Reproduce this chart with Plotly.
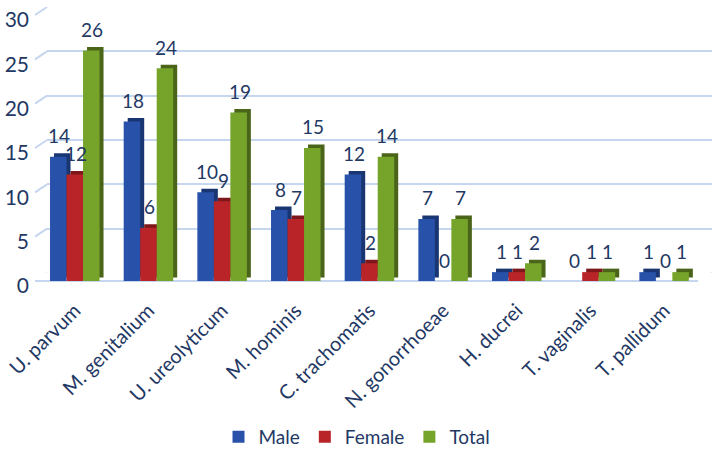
import plotly.graph_objects as go
import numpy as np

categories = ["U. parvum", "M. genitalium", "U. ureolyticum", "M. hominis",
              "C. trachomatis", "N. gonorrhoeae", "H. ducrei", "T. vaginalis", "T. pallidum"]
male = [14, 18, 10, 8, 12, 7, 1, 0, 1]
female = [12, 6, 9, 7, 2, 0, 1, 1, 0]
total = [26, 24, 19, 15, 14, 7, 2, 1, 1]
y_ticks = [0, 5, 10, 15, 20, 25, 30]

# ---- geometry / style ----
W, H = 714, 457
FRONT_L, FRONT_R = 35, 698
BACK_L, BACK_R = 47, 712
Y0_PX, YTOP_PX = 281, 15
LABEL_AXIS_PX = 294
YMAX = 30
DEPTH_UP = 8
PX_PER_UNIT = (Y0_PX - YTOP_PX) / YMAX
TXT = "#1F3864"
GRID = "#C6D6EF"
FONT = "Lato"

series = [
    ("Male", male, "#2852AA", "#1A3672", -0.296),
    ("Female", female, "#B82427", "#7E1719", -0.072),
    ("Total", total, "#76A42B", "#4A651A", 0.152),
]
BAR_W = 0.224
DX = 4 / ((FRONT_R - FRONT_L) / 9)
DY = 3.5 / PX_PER_UNIT

xs = np.arange(len(categories))

fig = go.Figure()
# invisible trace to create the back-wall grid subplot
fig.add_trace(go.Scatter(x=[0], y=[0], xaxis="x", yaxis="y", mode="markers",
                         marker=dict(opacity=0), showlegend=False, hoverinfo="skip"))

# side/top faces (3D depth)
for name, vals, c, cs, off in series:
    fig.add_trace(go.Bar(x=xs, y=vals, base=DY, offset=off + DX, width=BAR_W,
                         marker=dict(color=cs, line=dict(width=0)),
                         xaxis="x2", yaxis="y2", showlegend=False, hoverinfo="skip"))
# front faces
for name, vals, c, cs, off in series:
    fig.add_trace(go.Bar(x=xs, y=vals, offset=off, width=BAR_W, name=name,
                         marker=dict(color=c, line=dict(width=0)),
                         xaxis="x2", yaxis="y2"))

annotations = []
for name, vals, c, cs, off in series:
    for j, v in enumerate(vals):
        annotations.append(dict(x=j + off + BAR_W / 2, y=v, xref="x2", yref="y2",
                                text=str(v), showarrow=False, yshift=21, xshift=1,
                                font=dict(family=FONT, size=19, color=TXT)))

shapes = []
dunits = DEPTH_UP / PX_PER_UNIT
for v in y_ticks:
    shapes.append(dict(type="line", xref="paper", yref="y",
                       x0=FRONT_L / W, x1=BACK_L / W, y0=v - dunits, y1=v,
                       line=dict(color=GRID, width=2), layer="below"))
shapes.append(dict(type="line", xref="paper", yref="y",
                   x0=FRONT_R / W, x1=BACK_R / W, y0=-dunits, y1=0,
                   line=dict(color=GRID, width=2), layer="below"))

fig.update_layout(
    width=W, height=H,
    margin=dict(l=0, r=0, t=0, b=0),
    paper_bgcolor="white", plot_bgcolor="rgba(0,0,0,0)",
    barmode="overlay",
    font=dict(family=FONT, size=18, color=TXT),
    xaxis=dict(domain=[BACK_L / W, BACK_R / W], range=[-0.5, 8.5], visible=False,
               anchor="y", automargin=False),
    yaxis=dict(domain=[(H - (Y0_PX - DEPTH_UP)) / H, (H - (YTOP_PX - DEPTH_UP)) / H],
               range=[0, YMAX], tickvals=y_ticks, showticklabels=False,
               showgrid=True, gridcolor=GRID, gridwidth=2, zeroline=False,
               showline=False, anchor="x", automargin=False),
    xaxis2=dict(domain=[FRONT_L / W, FRONT_R / W], range=[-0.5, 8.5],
                tickvals=list(xs), ticktext=categories, tickangle=-45,
                showgrid=False, zeroline=False, showline=False,
                ticks="", anchor="free", position=(H - LABEL_AXIS_PX) / H,
                automargin=False, ticklabelshift=3,
                tickfont=dict(family=FONT, size=20, color=TXT)),
    yaxis2=dict(domain=[(H - Y0_PX) / H, (H - YTOP_PX) / H], range=[0, YMAX],
                tickvals=y_ticks, showgrid=False, showline=False,
                zeroline=True, zerolinecolor=GRID, zerolinewidth=2,
                ticks="", anchor="x2", automargin=False,
                ticklabelstandoff=5, ticklabelshift=5,
                tickfont=dict(family=FONT, size=21, color=TXT)),
    legend=dict(orientation="h", x=0.5, xanchor="center", y=20 / H, yanchor="middle",
                font=dict(family=FONT, size=19, color=TXT), traceorder="normal"),
    annotations=annotations,
    shapes=shapes,
)

fig.write_html("out.html")
